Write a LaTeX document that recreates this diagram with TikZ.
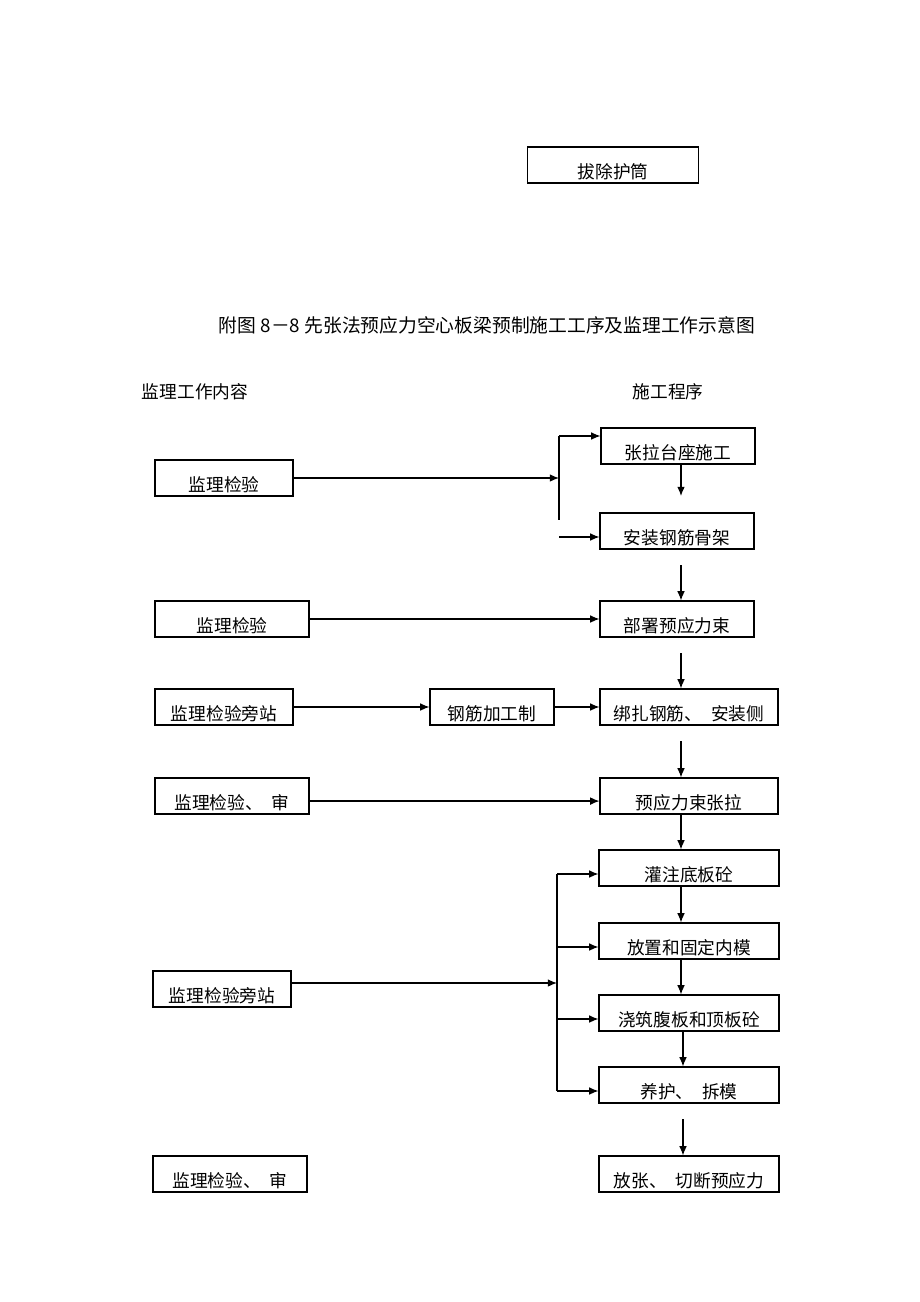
\documentclass[tikz,border=0pt]{standalone}
\usepackage{fontspec}
\setmainfont{Noto Sans CJK SC}
\usepackage{tikz}
\usetikzlibrary{arrows.meta}
\tikzset{
    %Define standard arrow tip
    >={Latex[length=6pt,width=5pt]},
    %Define style for boxes (width in pixels)
    stagebox/.style={
           rectangle,
           draw=black, line width=0.7pt,
           minimum width=#1*0.65pt,
           minimum height=36*0.65pt,
           inner sep=0pt,
           text height=17pt,
           text depth=0pt,
           font=\fontsize{11.5}{13}\selectfont,
           text centered},
    heading/.style={
           font=\fontsize{11.5}{13}\selectfont},
    % Define arrow style
    pil/.style={
           ->,
           line width=0.8pt}
}

\begin{document}
\begin{tikzpicture}[x=0.65pt,y=-0.65pt]
\useasboundingbox[fill=white] (0,0) rectangle (920,1302);
 %header
\node[stagebox=171](pull) at (613,165){拔除护筒};
\node[font=\fontsize{12.2}{14}\selectfont](title) at (487,325){附图 8－8 先张法预应力空心板梁预制施工工序及监理工作示意图};
\node[heading](hdrL) at (195,392){监理工作内容};
\node[heading](hdrR) at (668,392){施工程序};
 %construction steps
\node[stagebox=154](s1) at (678,446){张拉台座施工};
\node[stagebox=154](s2) at (677,531){安装钢筋骨架};
\node[stagebox=154](s3) at (677,619){部署预应力束};
\node[stagebox=178](s4) at (689,707){绑扎钢筋、\enspace 安装侧};
\node[stagebox=178](s5) at (689,796){预应力束张拉};
\node[stagebox=180](s6) at (689,868){灌注底板砼};
\node[stagebox=180](s7) at (689,941){放置和固定内模};
\node[stagebox=180](s8) at (689,1013){浇筑腹板和顶板砼};
\node[stagebox=180](s9) at (689,1085){养护、\enspace 拆模};
\node[stagebox=180](s10) at (689,1174){放张、\enspace 切断预应力};
 %supervision
\node[stagebox=138](c1) at (224,478){监理检验};
\node[stagebox=154](c2) at (232,619){监理检验};
\node[stagebox=138](c3) at (224,707){监理检验旁站};
\node[stagebox=124](m1) at (492,707){钢筋加工制};
\node[stagebox=154](c4) at (232,796){监理检验、\enspace 审};
\node[stagebox=138](c5) at (222,989){监理检验旁站};
\node[stagebox=154](c6) at (230,1174){监理检验、\enspace 审};
 %helper points
\coordinate (ax) at (681,0);
\coordinate (ay) at (683,0);
\coordinate (jx) at (559,0);
\coordinate (bx) at (557,0);
\coordinate (jt) at (559,436);
\coordinate (jb) at (559,520);
\coordinate (ja) at (559,537);
\coordinate (e1) at (681,496);
\coordinate (g2) at (681,565);
\coordinate (g3) at (681,653);
\coordinate (g4) at (681,741);
\coordinate (g9) at (683,1119);
 %connectors
\draw[pil] (c1.east) -- (c1.east -| jx);
\draw[line width=0.8pt] (jt) -- (jb);
\draw[pil] (jt) -- (jt -| s1.west);
\draw[pil] (ja) -- (ja -| s2.west);
\draw[pil] (s1.south -| ax) -- (e1);
\draw[pil] (g2) -- (g2 |- s3.north);
\draw[pil] (c2.east) -- (s3.west);
\draw[pil] (g3) -- (g3 |- s4.north);
\draw[pil] (c3.east) -- (m1.west);
\draw[pil] (m1.east) -- (s4.west);
\draw[pil] (g4) -- (g4 |- s5.north);
\draw[pil] ([yshift=-3.3pt]c4.east) -- ([yshift=-3.3pt]s5.west);
\draw[pil] (s5.south -| ax) -- (s6.north -| ax);
\draw[pil] (s6.south -| ax) -- (s7.north -| ax);
\draw[pil] (s7.south -| ax) -- (s8.north -| ax);
\draw[pil] (s8.south -| ay) -- (s9.north -| ay);
\draw[pil] (g9) -- (g9 |- s10.north);
\draw[line width=0.8pt] ([yshift=-3.9pt]s6.west -| bx) -- ([yshift=-3.9pt]s9.west -| bx);
\foreach \n in {s6,s7,s8,s9}
  \draw[pil] ([yshift=-3.9pt]\n.west -| bx) -- ([yshift=-3.9pt]\n.west);
\draw[pil] ([yshift=3.9pt]c5.east) -- ([yshift=3.9pt]c5.east -| bx);
\end{tikzpicture}
\end{document}
